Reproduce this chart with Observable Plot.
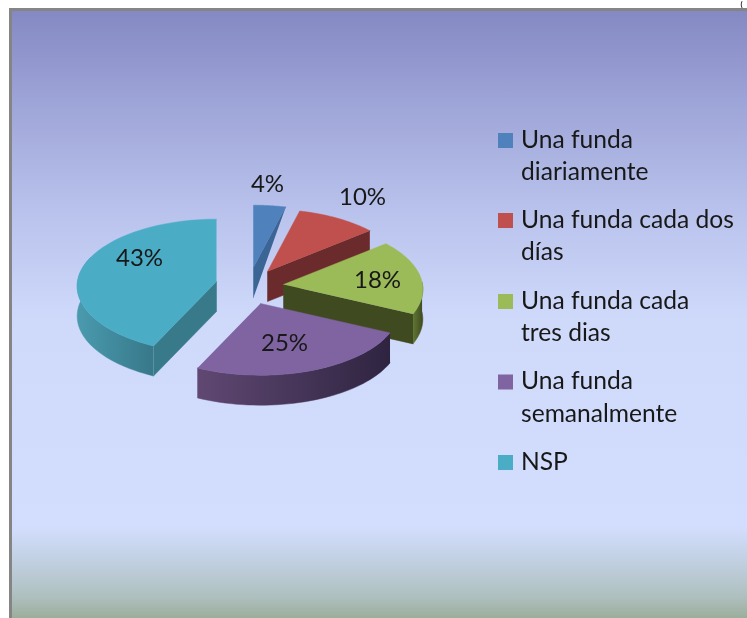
<!DOCTYPE html>
<html><head><meta charset="utf-8">
<script src="https://cdn.jsdelivr.net/npm/d3@7"></script>
<script src="https://cdn.jsdelivr.net/npm/@observablehq/plot@0.6"></script>
<style>
html,body{margin:0;padding:0;background:#fff;overflow:hidden}
#wrap{position:relative;width:747px;height:618px;overflow:hidden}
#bg{position:absolute;left:9px;top:8px;right:0;bottom:0;border-left:3px solid #858585;border-top:3px solid #858585;
background:linear-gradient(to bottom,#8489c3 0,#a0a7d9 100px,#b9c2ec 200px,#cfdafb 310px,#d3defe 515px,#c4d2e6 545px,#afc0c0 585px,#9bae9b 100%);}
#chart{position:absolute;left:0;top:0;filter:blur(.45px)}
</style></head><body><div id="wrap"><div id="bg"></div><div id="chart"></div></div>
<script>
const categories = ["Una funda diariamente","Una funda cada dos días","Una funda cada tres dias","Una funda semanalmente","NSP"];
const legendLabels = ["Una funda\ndiariamente","Una funda cada dos\ndías","Una funda cada\ntres dias","Una funda\nsemanalmente","NSP"];
const percentages = [4,10,18,25,43];
const topColors = ["#4f81bd","#c0504d","#9bbb59","#8064a2","#4bacc6"];
const wallColors = ["#3a6594","#6b2a2b","#404a20","#3a2a4e","#38798a"];
const arcStops = [null,null,["#5f7632","#404a20"],["#604873","#2e2440"],["#4a9aae","#37788a"]];

// layout of the exploded pseudo-3D pie
const apexX = [253,267,283,260,216], apexY = [267,271,284,303,281];
const A = 139, B = 67, P = 0.07, DEPTH = 30;
const rad = d => d*Math.PI/180;
const pt = (apex, deg) => {
  const X = Math.sin(rad(deg)), Y = -Math.cos(rad(deg)), w = 1+P*Y;
  return [apexX[apex]+A*X*w, apexY[apex]+B*Y*w];
};
let c = 0;
const spans = percentages.map(v => { const s=[c*3.6,(c+v)*3.6]; c+=v; return s; });
const poly = pts => pts.map(([x,y]) => ({x,y}));
const down = ([x,y],d=DEPTH) => [x,y+d];
const arcPts = (i,a0,a1) => d3.range(0,41).map(k => pt(i,a0+(a1-a0)*k/40));
const apexPt = i => [apexX[i],apexY[i]];

const shape = (pts,fill) => Plot.line(poly(pts),{x:"x",y:"y",fill,stroke:fill,strokeWidth:.5});
const gradFill = i => `url(#arc${i})`;

function wedge(i){
  const [a0,a1] = spans[i], out = [];
  if (arcStops[i]) {
    const from = i===2?88:a0, to = i===4?292:a1;
    const a = arcPts(i,from,to);
    out.push(shape([...a,...a.slice().reverse().map(p=>down(p))],gradFill(i)));
  }
  if (i===0) out.push(shape([pt(i,a1),apexPt(i),down(apexPt(i))],wallColors[i]));
  if (i===1||i===2) out.push(shape([pt(i,a1),apexPt(i),down(apexPt(i)),down(pt(i,a1))],wallColors[i]));
  if (i===4) out.push(shape([pt(i,a0),apexPt(i),down(apexPt(i)),down(pt(i,a0))],wallColors[i]));
  out.push(shape([apexPt(i),...arcPts(i,a0,a1)],topColors[i]));
  return out;
}

const labelX = [267,362,377,284,139], labelY = [184,197,280,343,258];
const pieLabels = percentages.map((v,i)=>({t:`${v}%`,x:labelX[i],y:labelY[i]}));
const legendTop = [140.5,220.5,301.5,382,462.5];
const legendRows = categories.map((c,i)=>({cat:c,label:legendLabels[i],y:legendTop[i],color:topColors[i]}));
const FONT = "Lato";
const clippedTitle = [{t:"(",x:741,y:4}];

const defs = () => {
  const d = d3.create("svg:defs");
  arcStops.forEach((s,i)=>{ if(!s) return;
    const g = d.append("linearGradient").attr("id",`arc${i}`).attr("x1",0).attr("x2",1).attr("y1",0).attr("y2",0);
    g.append("stop").attr("offset","0%").attr("stop-color",s[0]);
    g.append("stop").attr("offset","100%").attr("stop-color",s[1]);
  });
  return d.node();
};

const order = [0,1,2,4,3];
const chart = Plot.plot({
  width:747,height:618,margin:0,
  style:{background:"transparent",overflow:"hidden"},
  x:{domain:[0,747],range:[0,747],axis:null},
  y:{domain:[0,618],range:[0,618],axis:null},
  marks:[
    defs,
    ...order.flatMap(wedge),
    Plot.text(clippedTitle,{x:"x",y:"y",text:"t",fontSize:8,fontWeight:"bold",fontFamily:FONT,fill:"#111"}),
    Plot.text(pieLabels,{x:"x",y:"y",text:"t",fontSize:24,fontFamily:FONT,fill:"#181818"}),
    Plot.rect(legendRows,{x1:()=>498,x2:()=>513,y1:d=>d.y-7.5,y2:d=>d.y+7.5,fill:"color"}),
    Plot.text(legendRows,{x:()=>520.5,y:d=>d.y,text:"label",textAnchor:"start",lineAnchor:"top",dy:-16,lineHeight:1.31,fontSize:24.6,fontFamily:FONT,fill:"#181818"})
  ]
});
document.getElementById("chart").append(chart);
</script></body></html>
